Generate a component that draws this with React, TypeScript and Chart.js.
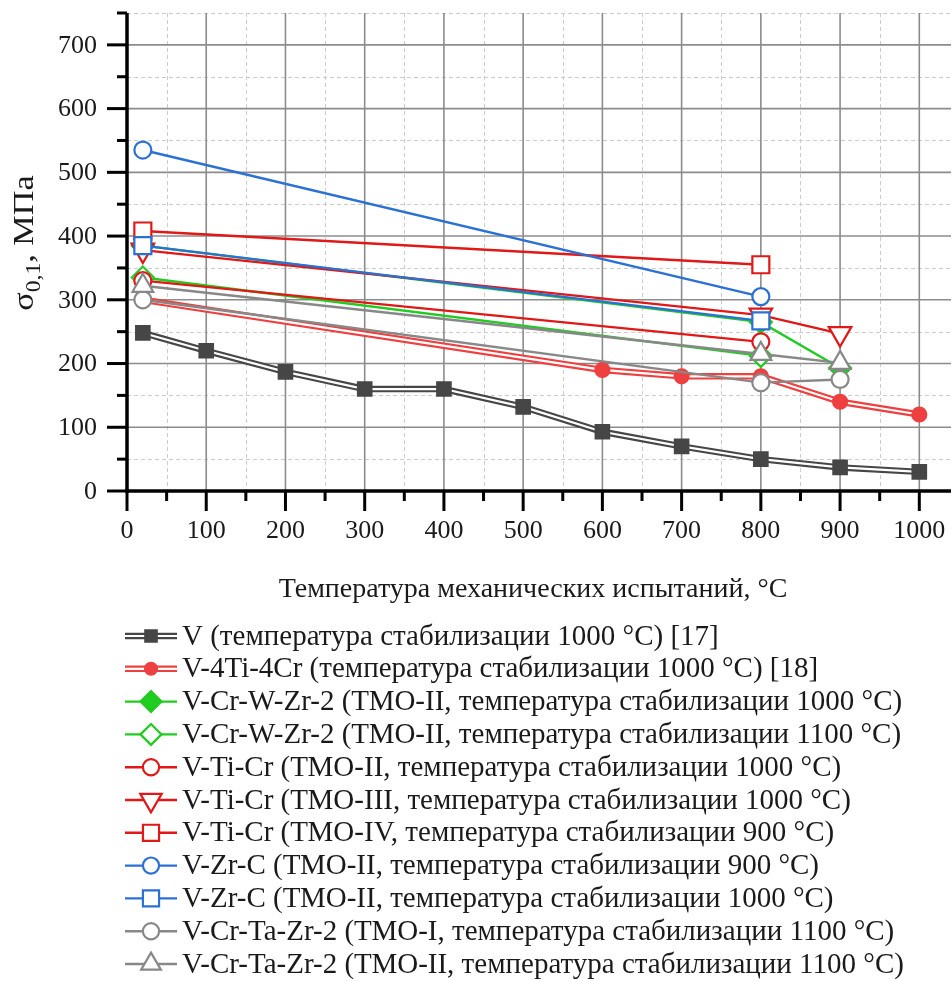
import React, { useEffect, useRef } from 'react';
import { Chart, registerables } from 'chart.js';
import { drawPoint } from 'chart.js/helpers';

Chart.register(...registerables);

const FONT = "'Liberation Serif', 'Times New Roman', serif";

// ---------- data ----------
const V_T = [20, 100, 200, 300, 400, 500, 600, 700, 800, 900, 1000];
const V_S = [248, 220, 187, 160, 160, 132, 93, 70, 50, 37, 30];
const V4Ti4Cr_T = [20, 600, 700, 800, 900, 1000];
const V4Ti4Cr_S = [300, 190, 180, 180, 140, 120];
const CrWZr1000_T = [20, 800, 900];
const CrWZr1000_S = [385, 265, 193];
const CrWZr1100_T = [20, 800];
const CrWZr1100_S = [335, 212];
const TiCrII_T = [20, 800];
const TiCrII_S = [330, 234];
const TiCrIII_T = [20, 800, 900];
const TiCrIII_S = [378, 276, 247];
const TiCrIV_T = [20, 800];
const TiCrIV_S = [408, 355];
const ZrC900_T = [20, 800];
const ZrC900_S = [535, 305];
const ZrC1000_T = [20, 800];
const ZrC1000_S = [385, 267];
const CrTaZrI_T = [20, 800, 900];
const CrTaZrI_S = [300, 170, 175];
const CrTaZrII_T = [20, 800, 900];
const CrTaZrII_S = [322, 215, 201];

const LABELS = [
  'V (температура стабилизации 1000 °C) [17]',
  'V-4Ti-4Cr (температура стабилизации 1000 °C) [18]',
  'V-Cr-W-Zr-2 (ТМО-II, температура стабилизации 1000 °C)',
  'V-Cr-W-Zr-2 (ТМО-II, температура стабилизации 1100 °C)',
  'V-Ti-Cr (ТМО-II, температура стабилизации 1000 °C)',
  'V-Ti-Cr (ТМО-III, температура стабилизации 1000 °C)',
  'V-Ti-Cr (ТМО-IV, температура стабилизации 900 °C)',
  'V-Zr-C (ТМО-II, температура стабилизации 900 °C)',
  'V-Zr-C (ТМО-II, температура стабилизации 1000 °C)',
  'V-Cr-Ta-Zr-2 (ТМО-I, температура стабилизации 1100 °C)',
  'V-Cr-Ta-Zr-2 (ТМО-II, температура стабилизации 1100 °C)',
];
const SERIES_T = [V_T, V4Ti4Cr_T, CrWZr1000_T, CrWZr1100_T, TiCrII_T, TiCrIII_T, TiCrIV_T, ZrC900_T, ZrC1000_T, CrTaZrI_T, CrTaZrII_T];
const SERIES_S = [V_S, V4Ti4Cr_S, CrWZr1000_S, CrWZr1100_S, TiCrII_S, TiCrIII_S, TiCrIV_S, ZrC900_S, ZrC1000_S, CrTaZrI_S, CrTaZrII_S];

const X_TICKS = [0, 100, 200, 300, 400, 500, 600, 700, 800, 900, 1000];
const X_MINOR = [50, 150, 250, 350, 450, 550, 650, 750, 850, 950];
const Y_TICKS = [0, 100, 200, 300, 400, 500, 600, 700];
const Y_MINOR = [50, 150, 250, 350, 450, 550, 650, 750];

const X_TITLE = 'Температура механических испытаний, °C';

// ---------- styles ----------
const DARK = '#464646';
const LRED = '#ee4040';
const GREEN = '#1fcc1f';
const RED = '#e01818';
const BLUE = '#2b70d4';
const GREY = '#888888';

type Sty = { color: string; style: string; radius: number; rot: number; fill: string; double: boolean };
const STYLES: Sty[] = [
  { color: DARK, style: 'rect', radius: 9.5, rot: 0, fill: DARK, double: true },
  { color: LRED, style: 'circle', radius: 7, rot: 0, fill: LRED, double: true },
  { color: GREEN, style: 'rectRot', radius: 11, rot: 0, fill: GREEN, double: false },
  { color: GREEN, style: 'rectRot', radius: 11, rot: 0, fill: '#ffffff', double: false },
  { color: RED, style: 'circle', radius: 8.5, rot: 0, fill: '#ffffff', double: false },
  { color: RED, style: 'triangle', radius: 13, rot: 180, fill: '#ffffff', double: false },
  { color: RED, style: 'rect', radius: 12, rot: 0, fill: '#ffffff', double: false },
  { color: BLUE, style: 'circle', radius: 8.5, rot: 0, fill: '#ffffff', double: false },
  { color: BLUE, style: 'rect', radius: 12, rot: 0, fill: '#ffffff', double: false },
  { color: GREY, style: 'circle', radius: 8.5, rot: 0, fill: '#ffffff', double: false },
  { color: GREY, style: 'triangle', radius: 12, rot: 0, fill: '#ffffff', double: false },
];

function buildDatasets() {
  const out: any[] = [];
  LABELS.forEach((label, i) => {
    const st = STYLES[i];
    const data = SERIES_T[i].map((t, k) => ({ x: t, y: SERIES_S[i][k] }));
    const base = (20 - i) * 10;
    const pointOpts = {
      pointStyle: st.style,
      pointRadius: st.radius,
      pointRotation: st.rot,
      pointBorderWidth: 2.2,
      pointBorderColor: st.color,
      pointBackgroundColor: st.fill,
      pointHoverRadius: st.radius,
    };
    if (st.double) {
      out.push({ label, data, borderColor: st.color, borderWidth: 6.5, pointRadius: 0, order: base + 2 });
      out.push({ label, data, borderColor: '#ffffff', borderWidth: 2.2, pointRadius: 0, order: base + 1 });
      out.push({ label, data, showLine: false, ...pointOpts, order: base });
    } else {
      out.push({ label, data, borderColor: st.color, borderWidth: 2.4, ...pointOpts, order: base });
    }
  });
  return out;
}

function line(ctx: CanvasRenderingContext2D, x1: number, y1: number, x2: number, y2: number) {
  ctx.beginPath();
  ctx.moveTo(x1, y1);
  ctx.lineTo(x2, y2);
  ctx.stroke();
}

const gridPlugin = {
  id: 'customGrid',
  beforeDatasetsDraw(chart: any) {
    const { ctx, chartArea: a, scales } = chart;
    const x = scales.x, y = scales.y;
    ctx.save();
    ctx.lineWidth = 1;
    ctx.strokeStyle = '#cccccc';
    ctx.setLineDash([4, 3]);
    X_MINOR.forEach((v) => {
      const p = Math.round(x.getPixelForValue(v)) + 0.5;
      line(ctx, p, a.top, p, a.bottom);
    });
    Y_MINOR.forEach((v) => {
      const p = Math.round(y.getPixelForValue(v)) + 0.5;
      line(ctx, a.left, p, a.right, p);
    });
    ctx.setLineDash([]);
    ctx.strokeStyle = '#8c8c8c';
    ctx.lineWidth = 1.6;
    X_TICKS.filter((v) => v > 0).forEach((v) => {
      const p = x.getPixelForValue(v);
      line(ctx, p, a.top, p, a.bottom);
    });
    Y_TICKS.filter((v) => v > 0).forEach((v) => {
      const p = y.getPixelForValue(v);
      line(ctx, a.left, p, a.right, p);
    });
    ctx.restore();
  },
};

const decorPlugin = {
  id: 'decor',
  afterDraw(chart: any) {
    const { ctx, chartArea: a, scales } = chart;
    const x = scales.x, y = scales.y;
    ctx.save();
    // axes
    ctx.strokeStyle = '#000';
    ctx.lineWidth = 3.5;
    line(ctx, a.left, a.top, a.left, a.bottom + 1.75);
    line(ctx, a.left - 1.75, a.bottom, a.right, a.bottom);
    ctx.lineWidth = 3;
    Y_TICKS.forEach((v) => {
      const p = y.getPixelForValue(v);
      line(ctx, a.left - 20, p, a.left, p);
    });
    Y_MINOR.forEach((v) => {
      const p = y.getPixelForValue(v);
      line(ctx, a.left - 10, p, a.left, p);
    });
    X_TICKS.forEach((v) => {
      const p = x.getPixelForValue(v);
      line(ctx, p, a.bottom, p, a.bottom + 20);
    });
    X_MINOR.forEach((v) => {
      const p = x.getPixelForValue(v);
      line(ctx, p, a.bottom, p, a.bottom + 10);
    });

    // tick labels
    ctx.fillStyle = '#1a1a1a';
    ctx.font = `26px ${FONT}`;
    ctx.textBaseline = 'middle';
    ctx.textAlign = 'center';
    X_TICKS.forEach((v) => {
      ctx.fillText(String(v), x.getPixelForValue(v), a.bottom + 40);
    });
    ctx.textAlign = 'right';
    Y_TICKS.forEach((v) => {
      ctx.fillText(String(v), a.left - 30, y.getPixelForValue(v) + 1);
    });

    // x title
    ctx.font = `28px ${FONT}`;
    ctx.textAlign = 'center';
    ctx.textBaseline = 'alphabetic';
    ctx.fillText(X_TITLE, 533, 597);

    // y title (rotated) σ0,1, МПа
    ctx.save();
    ctx.translate(33, 243);
    ctx.rotate(-Math.PI / 2);
    ctx.scale(1.18, 1);
    ctx.textAlign = 'left';
    const big = `29px ${FONT}`;
    const small = `20px ${FONT}`;
    const parts = [
      { t: 'σ', f: big, dy: 0 },
      { t: '0,1', f: small, dy: 7 },
      { t: ', МПа', f: big, dy: 0 },
    ];
    let total = 0;
    parts.forEach((p) => { ctx.font = p.f; total += ctx.measureText(p.t).width; });
    let cx = -total / 2;
    parts.forEach((p) => {
      ctx.font = p.f;
      ctx.fillText(p.t, cx, p.dy);
      cx += ctx.measureText(p.t).width;
    });
    ctx.restore();

    // legend
    const x0 = 125, x1 = 177, xm = 151, xt = 180;
    LABELS.forEach((label, i) => {
      const st = STYLES[i];
      const ry = 636 + i * 32.8;
      if (st.double) {
        ctx.strokeStyle = st.color;
        ctx.lineWidth = 6.5;
        line(ctx, x0, ry, x1, ry);
        ctx.strokeStyle = '#ffffff';
        ctx.lineWidth = 2.2;
        line(ctx, x0 - 1, ry, x1 + 1, ry);
      } else {
        ctx.strokeStyle = st.color;
        ctx.lineWidth = 2.4;
        line(ctx, x0, ry, x1, ry);
      }
      ctx.fillStyle = st.fill;
      ctx.strokeStyle = st.color;
      ctx.lineWidth = 2.2;
      drawPoint(ctx, { pointStyle: st.style, radius: st.double ? st.radius * 0.85 : st.radius * 0.95, rotation: st.rot, borderWidth: 2.2 } as any, xm, ry);
      ctx.fillStyle = '#1a1a1a';
      ctx.font = `29px ${FONT}`;
      ctx.textAlign = 'left';
      ctx.textBaseline = 'middle';
      ctx.fillText(label, xt + 2, ry + 1);
    });
    ctx.restore();
  },
};

export default function App() {
  const ref = useRef<HTMLCanvasElement>(null);
  useEffect(() => {
    document.body.style.margin = '0';
    document.documentElement.style.overflow = 'hidden';
    document.body.style.overflow = 'hidden';
    const canvas = ref.current as HTMLCanvasElement;
    canvas.width = 952;
    canvas.height = 981;
    const chart = new Chart(canvas, {
      type: 'line',
      data: { datasets: buildDatasets() },
      options: {
        animation: false,
        responsive: false,
        maintainAspectRatio: false,
        devicePixelRatio: 1,
        events: [],
        layout: { autoPadding: false, padding: { top: 13, right: 1, left: 0, bottom: 0 } },
        plugins: { legend: { display: false }, tooltip: { enabled: false } },
        elements: { line: { tension: 0 } },
        scales: {
          x: {
            type: 'linear',
            min: 0,
            max: 1040,
            grid: { display: false, drawTicks: false },
            border: { display: false },
            afterBuildTicks: (s: any) => { s.ticks = X_TICKS.map((v) => ({ value: v })); },
            afterFit: (s: any) => { s.height = 490; },
            ticks: { display: false },
          },
          y: {
            type: 'linear',
            min: 0,
            max: 750,
            grid: { display: false, drawTicks: false },
            border: { display: false },
            afterBuildTicks: (s: any) => { s.ticks = Y_TICKS.map((v) => ({ value: v })); },
            afterFit: (s: any) => { s.width = 127; },
            ticks: { display: false },
          },
        },
      },
      plugins: [gridPlugin, decorPlugin],
    } as any);
    return () => chart.destroy();
  }, []);
  return (
    <div style={{ width: 952, height: 981, overflow: 'hidden' }}>
      <canvas ref={ref} width={952} height={981} style={{ display: 'block', width: 952, height: 981 }} />
    </div>
  );
}
